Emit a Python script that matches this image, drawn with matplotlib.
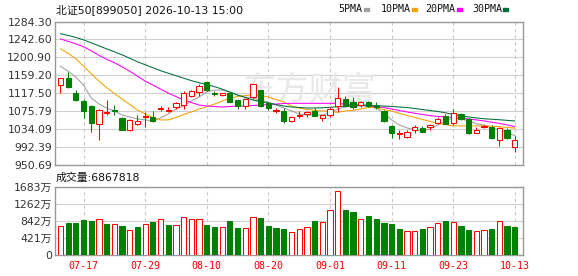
import matplotlib.pyplot as plt

W, H = 578, 276

RED = "#ff0000"
GREEN = "#008000"
MA_COLORS = ["#a0a0a0", "#f4a300", "#ff00ff", "#006f3c"]

dates = [
    "07-14", "07-15", "07-16", "07-17", "07-20", "07-21", "07-22", "07-23", "07-24", "07-27",
    "07-28", "07-29", "07-30", "07-31", "08-03", "08-04", "08-05", "08-06", "08-07", "08-10",
    "08-11", "08-12", "08-13", "08-14", "08-17", "08-18", "08-19", "08-20", "08-21", "08-24",
    "08-25", "08-26", "08-27", "08-28", "08-31", "09-01", "09-02", "09-03", "09-04", "09-07",
    "09-08", "09-09", "09-10", "09-11", "09-14", "09-15", "09-16", "09-17", "09-18", "09-21",
    "09-22", "09-23", "09-24", "09-25", "09-28", "09-29", "09-30", "10-09", "10-12", "10-13",
]
label_dates = ["07-17", "07-29", "08-10", "08-20", "09-01", "09-11", "09-23", "10-13"]

opens = [
    1137, 1154, 1117, 1099, 1088, 1046, 1071, 1079, 1059, 1032,
    1046, 1062, 1062, 1080, 1077, 1085, 1090, 1111, 1121, 1143,
    1118, 1114, 1117, 1102, 1088, 1109, 1125, 1095, 1076, 1077,
    1052, 1064, 1069, 1077, 1059, 1068, 1088, 1104, 1098, 1090,
    1097, 1088, 1077, 1042, 1022, 1015, 1031, 1036, 1038, 1048,
    1064, 1049, 1069, 1058, 1025, 1039, 1039, 1009, 1032, 993,
]
highs = [
    1153, 1167, 1125, 1104, 1090, 1080, 1101, 1090, 1063, 1057,
    1068, 1075, 1077, 1088, 1085, 1097, 1122, 1126, 1138, 1145,
    1123, 1119, 1121, 1104, 1106, 1139, 1126, 1097, 1083, 1083,
    1064, 1076, 1076, 1083, 1066, 1085, 1131, 1110, 1108, 1100,
    1099, 1098, 1078, 1043, 1033, 1032, 1043, 1042, 1045, 1062,
    1069, 1081, 1071, 1061, 1038, 1044, 1043, 1040, 1036, 1018,
]
lows = [
    1117, 1130, 1100, 1061, 1028, 1008, 1067, 1066, 1032, 1030,
    1043, 1040, 1051, 1076, 1074, 1080, 1080, 1108, 1112, 1122,
    1110, 1110, 1096, 1082, 1081, 1105, 1085, 1078, 1072, 1049,
    1050, 1061, 1062, 1064, 1052, 1062, 1075, 1087, 1082, 1085,
    1086, 1080, 1050, 1013, 1010, 1013, 1025, 1027, 1033, 1045,
    1046, 1044, 1056, 1023, 1024, 1036, 1012, 994, 1012, 980,
]
closes = [
    1152, 1131, 1102, 1076, 1048, 1079, 1074, 1077, 1033, 1056,
    1054, 1065, 1053, 1083, 1079, 1094, 1119, 1123, 1134, 1124,
    1115, 1117, 1098, 1088, 1104, 1138, 1089, 1083, 1078, 1053,
    1063, 1066, 1075, 1064, 1066, 1080, 1106, 1089, 1085, 1097,
    1087, 1086, 1052, 1025, 1024, 1028, 1040, 1028, 1044, 1058,
    1047, 1072, 1057, 1026, 1031, 1041, 1013, 1036, 1013, 1008,
]
# volume in 万
volumes = [
    715, 788, 788, 862, 838, 879, 764, 756, 715, 616,
    690, 756, 813, 879, 739, 731, 928, 887, 879, 739,
    690, 682, 838, 665, 657, 928, 912, 715, 665, 641,
    558, 632, 682, 846, 805, 1100, 1569, 1109, 1059, 879,
    961, 887, 788, 764, 641, 591, 591, 641, 682, 780,
    846, 813, 715, 624, 591, 616, 641, 838, 715, 686.7818,
]

ma5 = [
    1180.3, 1168.7, 1154.9, 1136.4, 1106.3, 1092.4, 1083.2, 1076.3, 1067.0, 1062.4,
    1057.8, 1055.5, 1053.2, 1060.1, 1069.3, 1080.9, 1087.8, 1099.4, 1108.6, 1120.2,
    1124.8, 1124.8, 1120.2, 1113.3, 1108.6, 1106.3, 1101.7, 1097.1, 1090.1, 1083.2,
    1076.3, 1069.3, 1067.0, 1067.0, 1067.0, 1071.6, 1080.9, 1085.5, 1087.8, 1087.8,
    1087.8, 1083.2, 1071.6, 1055.5, 1043.9, 1037.0, 1032.3, 1030.0, 1034.7, 1043.9,
    1053.2, 1060.1, 1057.8, 1053.2, 1046.2, 1043.9, 1037.0, 1032.3, 1025.4, 1019.5,
]
ma10 = [
    1220.7, 1210.3, 1197.6, 1180.3, 1162.9, 1145.6, 1130.6, 1116.7, 1104.0, 1091.3,
    1078.6, 1069.3, 1061.2, 1055.5, 1055.5, 1061.2, 1068.2, 1074.0, 1080.9, 1086.2,
    1092.4, 1099.4, 1106.3, 1109.8, 1112.1, 1113.3, 1112.1, 1108.6, 1102.8, 1097.1,
    1087.8, 1083.2, 1079.7, 1077.9, 1076.3, 1074.7, 1073.5, 1076.3, 1077.9, 1080.9,
    1084.4, 1083.2, 1079.7, 1076.3, 1070.5, 1065.9, 1061.2, 1056.6, 1052.0, 1047.8,
    1044.6, 1041.6, 1041.6, 1041.6, 1041.6, 1041.6, 1040.9, 1039.7, 1038.1, 1036.3,
]
ma20 = [
    1243.9, 1238.1, 1232.3, 1225.4, 1216.1, 1205.7, 1196.5, 1188.4, 1179.1, 1168.7,
    1157.2, 1145.6, 1136.4, 1127.1, 1117.9, 1109.8, 1101.7, 1095.9, 1090.1, 1087.8,
    1086.7, 1085.5, 1086.7, 1087.8, 1087.8, 1089.0, 1090.1, 1091.3, 1092.4, 1093.6,
    1094.1, 1094.1, 1094.1, 1094.1, 1094.1, 1094.1, 1093.6, 1092.4, 1091.3, 1089.4,
    1087.8, 1086.2, 1084.4, 1080.9, 1077.4, 1074.0, 1071.0, 1068.2, 1065.4, 1063.6,
    1062.4, 1061.2, 1059.4, 1057.8, 1055.5, 1053.2, 1050.1, 1047.4, 1043.9, 1039.7,
]
ma30 = [
    1255.9, 1251.9, 1247.3, 1241.5, 1234.6, 1227.7, 1220.7, 1213.8, 1206.9, 1198.8,
    1190.7, 1183.8, 1176.8, 1169.9, 1164.1, 1158.3, 1152.5, 1146.8, 1142.1, 1137.5,
    1132.9, 1127.1, 1120.2, 1113.3, 1107.5, 1101.7, 1098.2, 1094.8, 1091.3, 1087.8,
    1085.5, 1084.4, 1083.2, 1083.2, 1083.7, 1084.8, 1086.0, 1087.8, 1089.0, 1090.1,
    1089.7, 1089.0, 1087.8, 1086.7, 1085.5, 1084.4, 1082.0, 1079.7, 1077.4, 1075.1,
    1072.1, 1068.2, 1065.2, 1062.4, 1060.1, 1058.2, 1057.1, 1055.9, 1054.5, 1053.2,
]
ma_names = ["5PMA", "10PMA", "20PMA", "30PMA"]

price_ticks = [950.69, 992.39, 1034.09, 1075.79, 1117.50, 1159.20, 1200.90, 1242.60, 1284.30]
vol_ticks = [0, 421, 842, 1262, 1683]

title = "北证50[899050] 2026-10-13 15:00"
vol_title = "成交量:6867818"

CJK = ["DejaVu Sans", "Noto Sans CJK SC"]
MONO = ["DejaVu Sans Mono", "Noto Sans CJK SC"]


def px(x, y):
    return x / W, 1 - y / H


def style_axes(ax, tick_idx):
    for s in ax.spines.values():
        s.set_color("#999999")
        s.set_linewidth(1)
    ax.tick_params(length=0, pad=2, labelsize=7.8, colors="#333333")
    ax.set_xlim(-0.71, 60.0)
    ax.set_xticks(tick_idx)
    for t in tick_idx:
        ax.axvline(t, color="#c8c8c8", lw=0.8, ls=(0, (3, 3)), zorder=0.6)


def main():
    fig = plt.figure(figsize=(W / 100, H / 100), dpi=100)
    ax = fig.add_axes([55 / W, 1 - 165 / H, 467.5 / W, 143.5 / H])
    axv = fig.add_axes([55 / W, 1 - 255 / H, 467.5 / W, 68.3 / H])

    n = len(dates)
    idx = list(range(n))
    tick_idx = [dates.index(d) for d in label_dates]

    # price panel
    style_axes(ax, tick_idx)
    ax.set_ylim(price_ticks[0], price_ticks[-1])
    ax.set_yticks(price_ticks)
    ax.set_yticklabels([f"{v:.2f}" for v in price_ticks])
    for v in price_ticks:
        ax.axhline(v, color="#d0d0d0", lw=0.8, zorder=0.5)
    ax.set_xticklabels([])

    ax.text(0.543, 0.52, "东方财富", transform=ax.transAxes, ha="center", va="center",
            fontsize=24, color="#e8e8e8", family=["Noto Sans CJK SC"], zorder=0.7)

    for ma, c in zip([ma5, ma10, ma20, ma30], MA_COLORS):
        ax.plot(idx, ma, color=c, lw=0.75, zorder=2)

    for i in idx:
        o, h, l, c = opens[i], highs[i], lows[i], closes[i]
        up = c >= o
        col = RED if up else GREEN
        ax.vlines(i, l, h, color=col, lw=0.75, zorder=3)
        body = max(abs(c - o), 0.6)
        ax.bar(i, body, bottom=min(o, c), width=0.68,
               facecolor="white" if up else GREEN, edgecolor=col, lw=0.75, zorder=4)

    # volume panel
    style_axes(axv, tick_idx)
    axv.set_ylim(0, vol_ticks[-1])
    axv.set_yticks(vol_ticks)
    axv.set_yticklabels(["0"] + [f"{v}万" for v in vol_ticks[1:]], family=CJK)
    for v in vol_ticks:
        axv.axhline(v, color="#d0d0d0", lw=0.8, zorder=0.5)
    axv.set_xticklabels(label_dates, color=RED, family=MONO, fontsize=7.2)
    axv.tick_params(axis="x", pad=4)

    for i in idx:
        prev = closes[i - 1] if i > 0 else opens[i]
        up = closes[i] >= prev
        col = RED if up else GREEN
        axv.bar(i, volumes[i], width=0.68, facecolor="white" if up else GREEN,
                edgecolor=col, lw=0.75, zorder=3)

    # header texts
    fig.text(*px(56, 9.5), title, family=CJK, fontsize=7.8, va="center", color="#111111")
    fig.text(*px(56, 178), vol_title, family=CJK, fontsize=7.8, va="center", color="#111111")

    leg_x = [338.5, 380.5, 425.5, 472]
    for name, c, x0 in zip(ma_names, MA_COLORS, leg_x):
        fig.text(*px(x0, 9.5), name, family=MONO, fontsize=7.2, va="center", color="#111111")
        w = len(name) * 5.85
        fig.patches.append(plt.Rectangle(px(x0 + w + 2, 11), 5 / W, 3 / H,
                                         transform=fig.transFigure, color=c, figure=fig))

    fig.savefig("out.png", dpi=100)
    plt.close(fig)


if __name__ == "__main__":
    main()
